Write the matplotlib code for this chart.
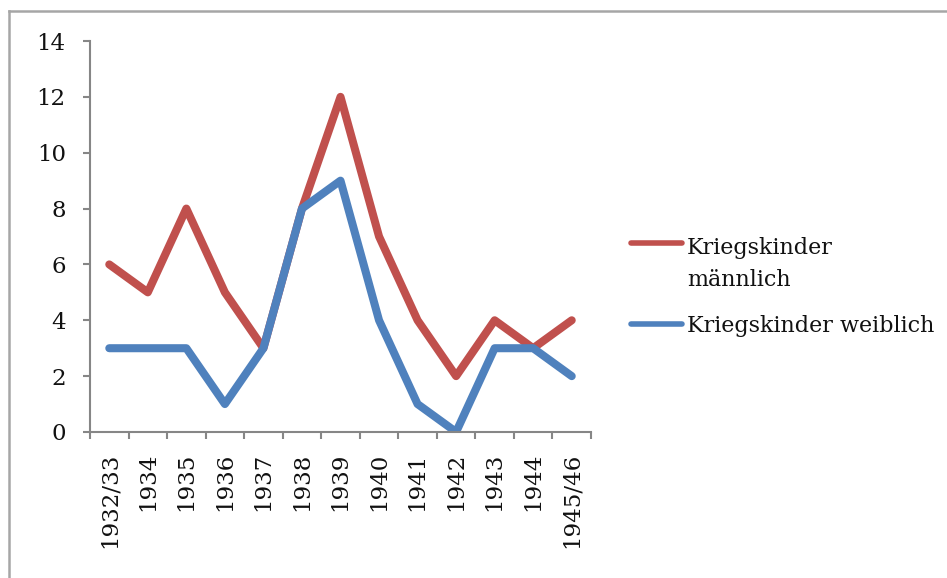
import matplotlib
matplotlib.use("Agg")
import matplotlib.pyplot as plt
from matplotlib.lines import Line2D
import numpy as np

categories = ["1932/33", "1934", "1935", "1936", "1937", "1938", "1939",
              "1940", "1941", "1942", "1943", "1944", "1945/46"]
maennlich = [6, 5, 8, 5, 3, 8, 12, 7, 4, 2, 4, 3, 4]
weiblich = [3, 3, 3, 1, 3, 8, 9, 4, 1, 0, 3, 3, 2]
label_m = "Kriegskinder\nmännlich"
label_w = "Kriegskinder weiblich"
yticks = [0, 2, 4, 6, 8, 10, 12, 14]

red = "#C0504D"
blue = "#4F81BD"
gray = "#868686"

plt.rcParams['font.family'] = ['DejaVu Serif']
FS = 16.5
LFS = 16

W, H = 947, 578
fig = plt.figure(figsize=(W / 100, H / 100), dpi=100)
ax = fig.add_axes([90 / W, 1 - 432 / H, (591 - 90) / W, (432 - 41) / H])

x = np.arange(len(categories))
ax.plot(x, maennlich, color=red, lw=5.8, solid_joinstyle='round', solid_capstyle='round')
ax.plot(x, weiblich, color=blue, lw=5.8, solid_joinstyle='round', solid_capstyle='round')

ax.set_xlim(-0.5, len(categories) - 0.5)
ax.set_ylim(0, 14)
ax.set_yticks(yticks)
ax.set_yticklabels([str(v) for v in yticks], fontsize=FS, color='#111111')
ax.set_xticks(x)
ax.set_xticklabels(categories, rotation=90, fontsize=FS, color='#111111')
ax.set_xticks(np.arange(-0.5, len(categories), 1), minor=True)
ax.tick_params(axis='x', which='major', length=0, pad=15)
ax.tick_params(axis='x', which='minor', length=5, width=1.5, color=gray, direction='out')
ax.tick_params(axis='y', length=5, width=1.5, color=gray, direction='out', pad=12.5)

for s in ['top', 'right']:
    ax.spines[s].set_visible(False)
for s in ['left', 'bottom']:
    ax.spines[s].set_color(gray)
    ax.spines[s].set_linewidth(1.5)

def fx(px):
    return px / W

def fy(py):
    return 1 - py / H

# Legend drawn manually
fig.add_artist(Line2D([fx(631), fx(682)], [fy(243), fy(243)], color=red, lw=4,
                      solid_capstyle='round'))
for i, part in enumerate(label_m.split("\n")):
    fig.text(fx(687), fy(248 + 32 * i), part, fontsize=LFS, va='center', ha='left',
             color='#111111')
fig.add_artist(Line2D([fx(631), fx(682)], [fy(324), fy(324)], color=blue, lw=4,
                      solid_capstyle='round'))
fig.text(fx(687), fy(326), label_w, fontsize=LFS, va='center', ha='left', color='#111111')

# Outer frame
fig.add_artist(Line2D([fx(9), fx(9)], [fy(11), 0], color="#A6A6A6", lw=1.8))
fig.add_artist(Line2D([fx(9), 1], [fy(11), fy(11)], color="#A6A6A6", lw=1.8))

fig.savefig("out.png", dpi=100)
